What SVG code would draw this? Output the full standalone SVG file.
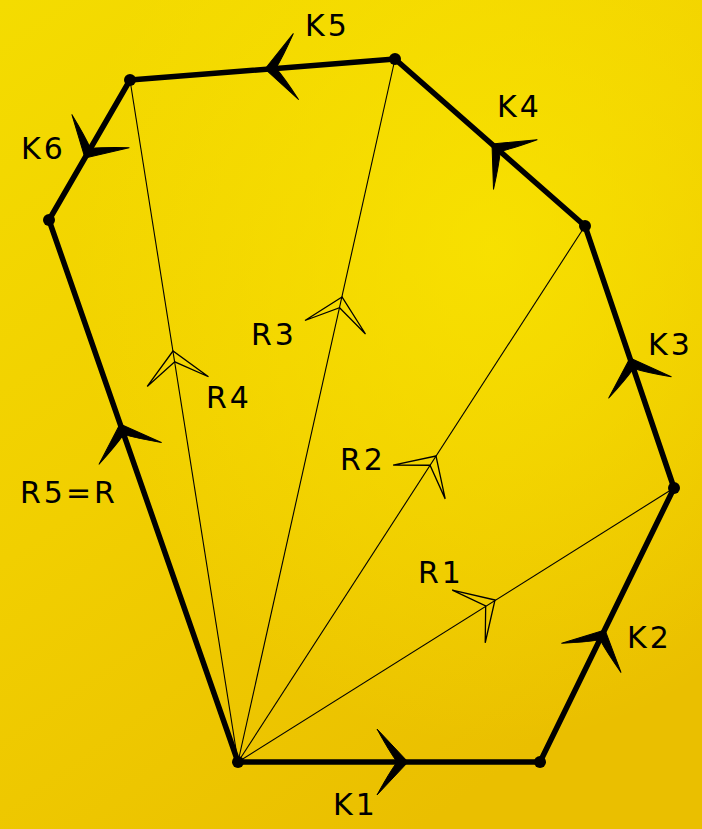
<svg xmlns="http://www.w3.org/2000/svg" xmlns:xlink="http://www.w3.org/1999/xlink" width="702" height="829" viewBox="0 0 702 829">
<defs>
<linearGradient id="bg" x1="0" y1="0" x2="0.6" y2="1">
<stop offset="0" stop-color="#f4dc00"/>
<stop offset="0.5" stop-color="#f1cf00"/>
<stop offset="1" stop-color="#eabf00"/>
</linearGradient>
<radialGradient id="hl" cx="0.7" cy="0.3" r="0.6">
<stop offset="0" stop-color="#fae800" stop-opacity="0.7"/>
<stop offset="1" stop-color="#fae800" stop-opacity="0"/>
</radialGradient>
<path id="dart" d="M0,0 L-31,-33 Q-19,-11 -11,0 Q-19,11 -31,33 Z" fill="#000" stroke="#000" stroke-width="1" stroke-linejoin="round"/>
<path id="odart" d="M0,0 L-31,-31 L-11,0 L-31,31 Z" fill="none" stroke="#000" stroke-width="1.3" stroke-linejoin="miter"/>
</defs>
<style>
.edge{stroke:#000;stroke-width:5.5;fill:none;stroke-linecap:round}
.ray{stroke:#000;stroke-width:1.1;fill:none}
.lbl{font-family:"DejaVu Sans",sans-serif;font-size:30px;fill:#000;letter-spacing:3px}
</style>
<rect width="702" height="829" fill="url(#bg)"/>
<rect width="702" height="829" fill="url(#hl)"/>
<g id="connectors">
<line class="ray" x1="238" y1="762" x2="674" y2="488"/>
<line class="ray" x1="238" y1="762" x2="585" y2="226"/>
<line class="ray" x1="238" y1="762" x2="395" y2="59"/>
<line class="ray" x1="238" y1="762" x2="130" y2="80"/>
<line class="edge" x1="238" y1="762" x2="540" y2="762"/>
<line class="edge" x1="540" y1="762" x2="674" y2="488"/>
<line class="edge" x1="674" y1="488" x2="585" y2="226"/>
<line class="edge" x1="585" y1="226" x2="395" y2="59"/>
<line class="edge" x1="395" y1="59" x2="130" y2="80"/>
<line class="edge" x1="130" y1="80" x2="49" y2="220"/>
<line class="edge" x1="49" y1="220" x2="238" y2="762"/>
<use xlink:href="#dart" transform="translate(408,762)"/>
<use xlink:href="#dart" transform="translate(605,630) rotate(-63.9)"/>
<use xlink:href="#dart" transform="translate(630,358) rotate(-108.8)"/>
<use xlink:href="#dart" transform="translate(492,144) rotate(-138.7)"/>
<use xlink:href="#dart" transform="translate(265,69) rotate(175.5)"/>
<use xlink:href="#dart" transform="translate(85,158) rotate(120)"/>
<use xlink:href="#dart" transform="translate(120,424) rotate(-109.2)"/>
<use xlink:href="#odart" transform="translate(495,600) rotate(-32.1)"/>
<use xlink:href="#odart" transform="translate(436,456) rotate(-57.1)"/>
<use xlink:href="#odart" transform="translate(342,297) rotate(-77.4)"/>
<use xlink:href="#odart" transform="translate(173,351) rotate(-99)"/>
</g>
<g id="vA"><circle cx="238" cy="762" r="6"/></g>
<g id="vB"><circle cx="540" cy="762" r="6"/></g>
<g id="vC"><circle cx="674" cy="488" r="6"/></g>
<g id="vD"><circle cx="585" cy="226" r="6"/></g>
<g id="vE"><circle cx="395" cy="59" r="6"/></g>
<g id="vF"><circle cx="130" cy="80" r="6"/></g>
<g id="vG"><circle cx="49" cy="220" r="6"/></g>
<g id="labels">
<text class="lbl" x="305" y="36">K5</text>
<text class="lbl" x="497" y="117">K4</text>
<text class="lbl" x="21" y="159">K6</text>
<text class="lbl" x="648" y="355">K3</text>
<text class="lbl" x="251" y="345">R3</text>
<text class="lbl" x="206" y="408">R4</text>
<text class="lbl" x="340" y="470">R2</text>
<text class="lbl" x="20" y="503">R5=R</text>
<text class="lbl" x="418" y="583">R1</text>
<text class="lbl" x="627" y="648">K2</text>
<text class="lbl" x="333" y="815">K1</text>
</g>
</svg>
